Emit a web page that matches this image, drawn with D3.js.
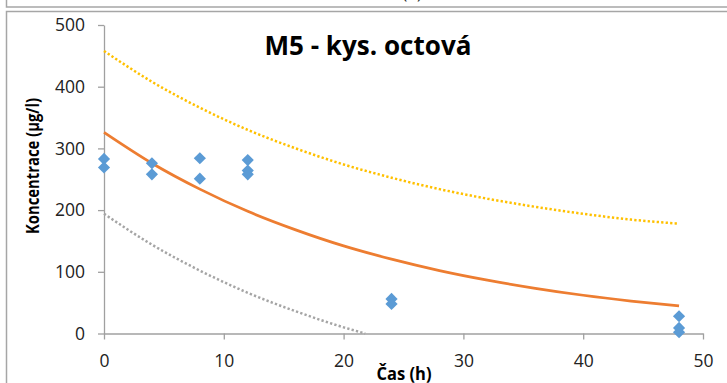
<!DOCTYPE html>
<html>
<head>
<meta charset="utf-8">
<script src="https://cdn.jsdelivr.net/npm/d3@7/dist/d3.min.js"></script>
<style>
  html, body { margin: 0; padding: 0; background: #fff; }
  svg { display: block; }
  text { font-family: "Open Sans", "Noto Sans", sans-serif; }
</style>
</head>
<body>
<svg id="chart" width="727" height="383"></svg>
<script>
// Measured concentrations (time in h, concentration in µg/l)
const sampleTimes = [0, 0, 4, 4, 8, 8, 12, 12, 12, 24, 24, 48, 48, 48];
const sampleValues = [283, 269, 276, 258, 284, 251, 281, 264, 258, 56, 48, 28, 9, 2];

// Model curve and its band, sampled along the time axis
const curveTimes = [0, 4, 8, 12, 16, 20, 24, 28, 32, 36, 40, 44, 48];
const fitValues = [326, 276, 234, 198, 168, 142, 120.5, 102, 86.5, 73.3, 62, 52.6, 44.6];
const upperValues = [458, 408, 366, 330, 300, 274, 252.5, 234, 218.5, 205.3, 194, 184.6, 178];
const lowerTimes = [0, 4, 8, 12, 16, 20, 21.8];
const lowerValues = [194, 144, 102, 66, 36, 10, 0];

const xTicks = [0, 10, 20, 30, 40, 50];
const yTicks = [0, 100, 200, 300, 400, 500];

const svg = d3.select("#chart");

// Outer cell frames
const frame = svg.append("g").attr("fill", "none").attr("stroke", "#a6a6a6").attr("stroke-width", 1.5);
frame.append("path").attr("d", "M6.5,0 V7 H727");
frame.append("path").attr("d", "M6.5,383 V11.5 H727");
svg.append("text").attr("x", 412).attr("y", -1).attr("text-anchor", "middle")
  .attr("font-size", 16).attr("fill", "#222").text("(b)");

const x = d3.scaleLinear().domain([0, 50]).range([104, 703]);
const y = d3.scaleLinear().domain([0, 500]).range([333.5, 25]);

// Axes
const axisColor = "#a0a0a0";
const yAxis = svg.append("g").attr("transform", "translate(104,0)")
  .call(d3.axisLeft(y).tickValues(yTicks).tickSize(6).tickSizeOuter(0).tickPadding(13));
const xAxis = svg.append("g").attr("transform", "translate(0,333.5)")
  .call(d3.axisBottom(x).tickValues(xTicks).tickSize(6).tickSizeOuter(0).tickPadding(15));
[xAxis, yAxis].forEach(g => {
  g.select(".domain").attr("stroke", axisColor).attr("stroke-width", 1.3);
  g.selectAll(".tick line").attr("stroke", axisColor).attr("stroke-width", 1.3);
  g.selectAll(".tick text").attr("font-size", 17.5).attr("fill", "#222")
    .attr("font-family", "'Open Sans', sans-serif");
});

// Curves
const line = d3.line().x(d => x(d[0])).y(d => y(d[1])).curve(d3.curveMonotoneX);
svg.append("path").datum(d3.zip(curveTimes, upperValues)).attr("d", line)
  .attr("fill", "none").attr("stroke", "#ffc000").attr("stroke-width", 2.5)
  .attr("stroke-dasharray", "2.3 2.2");
svg.append("path").datum(d3.zip(lowerTimes, lowerValues)).attr("d", line)
  .attr("fill", "none").attr("stroke", "#a5a5a5").attr("stroke-width", 2.5)
  .attr("stroke-dasharray", "2.3 2.2");
svg.append("path").datum(d3.zip(curveTimes, fitValues)).attr("d", line)
  .attr("fill", "none").attr("stroke", "#ed7d31").attr("stroke-width", 2.75);

// Measured points as diamonds
const diamond = d3.symbol().type(d3.symbolSquare).size(74);
svg.append("g").selectAll("path").data(d3.zip(sampleTimes, sampleValues)).join("path")
  .attr("d", diamond)
  .attr("transform", d => `translate(${x(d[0])},${y(d[1])}) rotate(45)`)
  .attr("fill", "#5b9bd5");

// Titles
svg.append("text").attr("x", 368).attr("y", 55).attr("text-anchor", "middle")
  .attr("font-size", 27).attr("font-weight", "bold").attr("fill", "#000")
  .attr("textLength", 207).attr("lengthAdjust", "spacingAndGlyphs")
  .text("M5 - kys. octová");
svg.append("text").attr("transform", "translate(39,166) rotate(-90)").attr("text-anchor", "middle")
  .attr("font-size", 17).attr("font-weight", "bold").attr("fill", "#000")
  .attr("textLength", 136).attr("lengthAdjust", "spacingAndGlyphs")
  .text("Koncentrace (µg/l)");
svg.append("text").attr("x", 404).attr("y", 380).attr("text-anchor", "middle")
  .attr("font-size", 17).attr("font-weight", "bold").attr("fill", "#000")
  .attr("textLength", 55).attr("lengthAdjust", "spacingAndGlyphs")
  .text("Čas (h)");
</script>
</body>
</html>
